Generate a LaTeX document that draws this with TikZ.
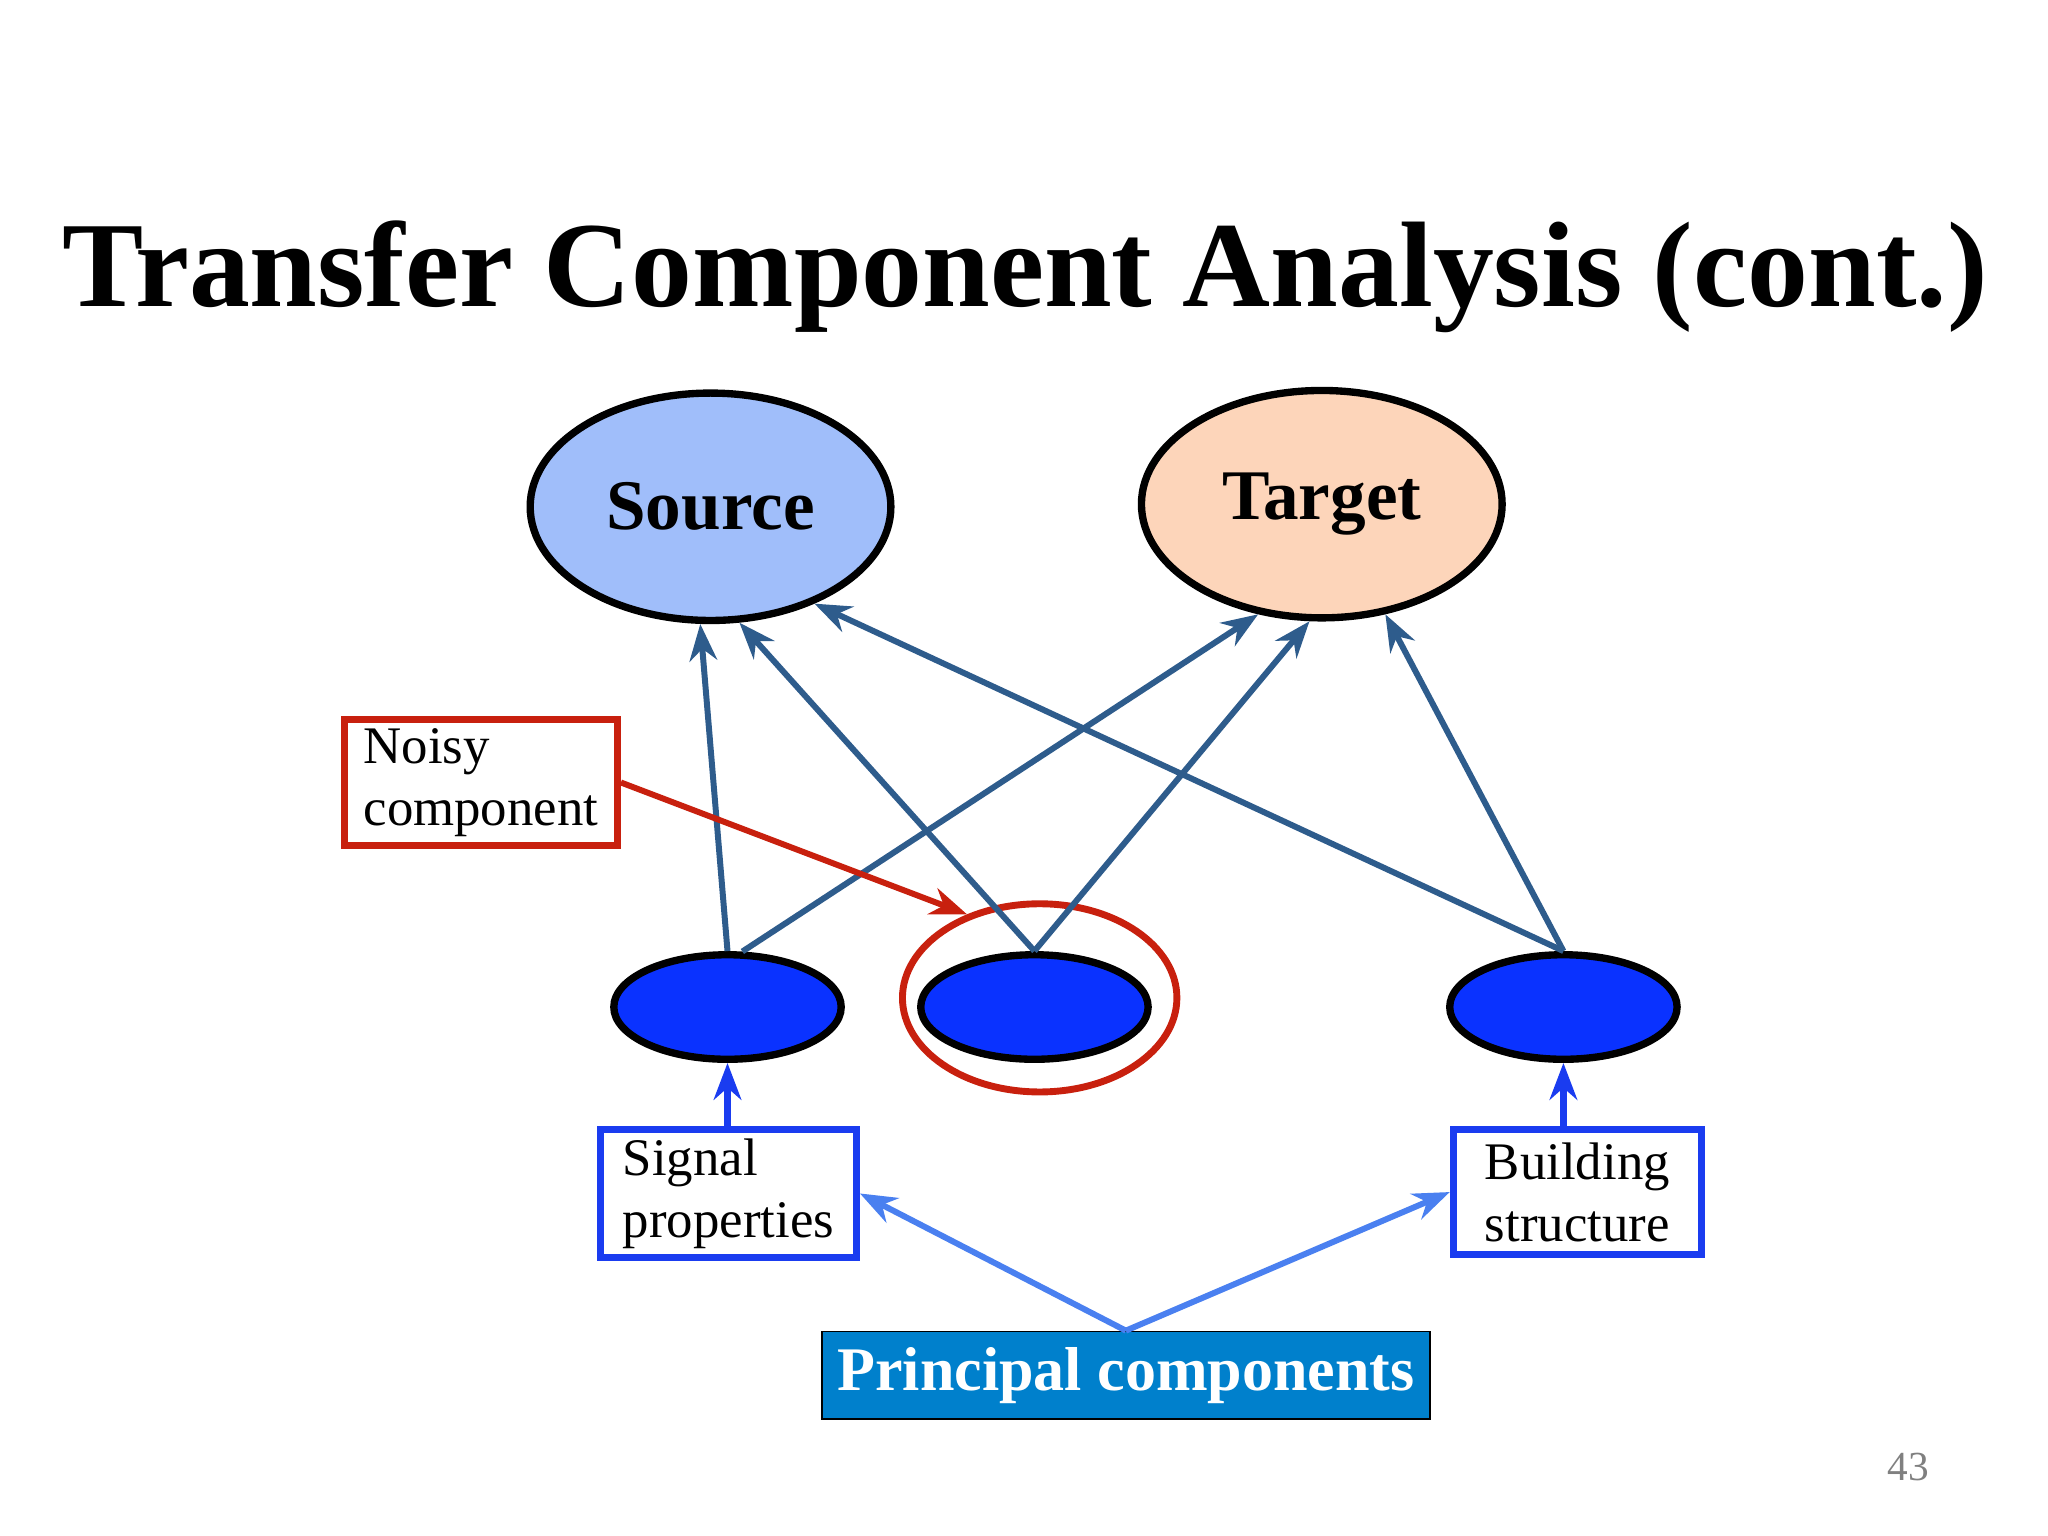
\documentclass[tikz,border=0pt]{standalone}
\usepackage{fontspec}
\setmainfont{Liberation Serif}
\usetikzlibrary{shapes.geometric,arrows.meta}
\definecolor{srcfill}{HTML}{A0BEFA}
\definecolor{tgtfill}{HTML}{FDD5BA}
\definecolor{compfill}{HTML}{0A32FF}
\definecolor{redc}{HTML}{C8200E}
\definecolor{boxblue}{HTML}{1A3CF0}
\definecolor{linkc}{HTML}{2E5C8C}
\definecolor{lightarr}{HTML}{4A80F0}
\definecolor{pcfill}{HTML}{0080CC}
\tikzset{
  big/.style={ellipse,draw=black,line width=1.6pt,minimum width=2.76cm,minimum height=1.74cm,inner sep=0pt,font=\fontsize{15.5}{18}\selectfont\bfseries},
  comp/.style={ellipse,draw=black,line width=1.6pt,fill=compfill,minimum width=1.74cm,minimum height=0.8cm},
  lbl/.style={draw,line width=1.5pt,align=left,anchor=north west,inner sep=2pt,font=\fontsize{11.5}{13.5}\selectfont},
  link/.style={draw=linkc,line width=1.3pt,-{Stealth[length=8pt,width=6pt,open]}},
}
\begin{document}
\begin{tikzpicture}[x=0.01cm,y=-0.01cm]
\useasboundingbox (0,0) rectangle (1568,1176);
\node (title) at (785,212) {\fontsize{26.5}{30}\selectfont\bfseries Transfer Component Analysis (cont.)};
\node[big,fill=srcfill] (src) at (544,388) {Source};
\node[big,fill=tgtfill] (tgt) at (1012,386) {Target};
\node[comp] (s1) at (557,771) {};
\node[comp] (s2) at (792,771) {};
\node[comp] (s3) at (1197,771) {};
\node[ellipse,draw=redc,line width=1.5pt,minimum width=2.1cm,minimum height=1.44cm] (ring) at (796,764) {};
\node[lbl,draw=redc,minimum width=2.09cm,minimum height=0.96cm] (noisy) at (261,548) {Noisy\\component};
\node[lbl,draw=boxblue,minimum width=1.96cm,minimum height=0.96cm] (sig) at (457,862) {Signal\\properties};
\node[lbl,draw=boxblue,minimum width=1.9cm,minimum height=0.96cm] (bld) at (1110,862) {Building\\structure};
\node[draw=black,fill=pcfill,text=white,minimum width=4.44cm,minimum height=0.67cm,font=\fontsize{13.5}{16}\selectfont\bfseries] (pc) at (862,1053) {Principal components};
\node[text=gray,font=\fontsize{9}{10}\selectfont] (pn) at (1461,1123) {43};
\draw[link] (s1.north) -- (src.-95);
\draw[link] (s2.north) -- (src.-76);
\draw[link] (s3.north) -- (src.-43);
\draw[link] (s1.75) -- (tgt.-120);
\draw[link] (s2.north) -- (tgt.-96);
\draw[link] (s3.north) -- (tgt.-60);
\draw[draw=redc,line width=1.3pt,-{Stealth[length=8pt,width=6pt,open]}] (noisy.east) -- (ring.131);
\draw[draw=boxblue,line width=1.5pt,-{Stealth[length=8pt,width=6pt,open]}] (sig.north -| s1.south) -- (s1.south);
\draw[draw=boxblue,line width=1.5pt,-{Stealth[length=8pt,width=6pt,open]}] (bld.north -| s3.south) -- (s3.south);
\draw[draw=lightarr,line width=1.3pt,-{Stealth[length=8pt,width=6pt,open]}] (pc.north) -- (sig.east);
\draw[draw=lightarr,line width=1.3pt,-{Stealth[length=8pt,width=6pt,open]}] (pc.north) -- (bld.west);
\end{tikzpicture}
\end{document}
